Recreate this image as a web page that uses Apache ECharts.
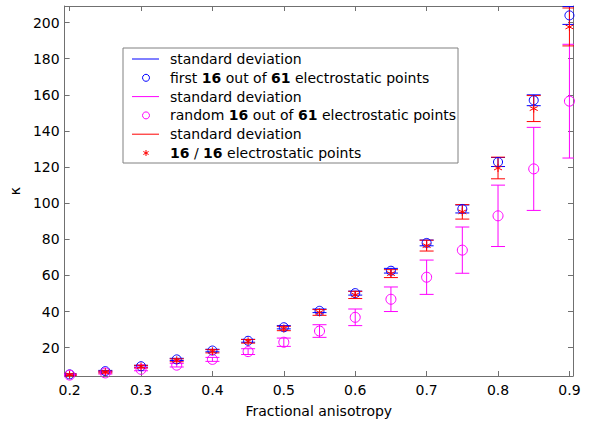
<!DOCTYPE html>
<html>
<head>
<meta charset="utf-8">
<script src="https://cdn.jsdelivr.net/npm/echarts@6/dist/echarts.min.js"></script>
<style>html,body{margin:0;padding:0;background:#fff}#c{width:591px;height:423px}</style>
</head>
<body>
<div id="c"></div>
<script>
const fa = [0.2,0.25,0.3,0.35,0.4,0.45,0.5,0.55,0.6,0.65,0.7,0.75,0.8,0.85,0.9];
const firstMean = [5.2,7.0,9.7,13.5,18.4,23.8,31.3,40.4,50.2,62.6,78.0,96.8,122.8,157.0,204.0];
const firstStd  = [0.3,0.4,0.5,0.6,0.7,0.8,0.9,1.0,1.1,1.3,1.6,2.2,2.5,3.0,5.0];
const randMean  = [4.8,6.0,8.0,10.3,13.5,17.8,23.0,29.2,36.8,46.8,59.0,74.0,93.0,119.0,156.5];
const randStd   = [0.4,0.6,0.8,1.0,1.1,1.6,2.3,3.5,4.6,6.8,9.5,12.8,17.0,23.0,31.5];
const eqMean    = [5.0,6.5,9.5,13.0,18.0,23.5,30.6,39.5,49.2,61.0,76.5,95.2,119.5,152.4,197.6];
const eqStd     = [0.4,0.5,0.7,0.8,0.9,1.0,1.2,1.6,2.0,2.2,3.0,4.0,6.0,7.2,10.5];
const xTicks = [0.2,0.3,0.4,0.5,0.6,0.7,0.8,0.9];
const yTicks = [20,40,60,80,100,120,140,160,180,200];
const legendLabels = [
  'standard deviation',
  '{n|first }{b|16}{n| out of }{b|61}{n| electrostatic points}',
  'standard deviation',
  '{n|random }{b|16}{n| out of }{b|61}{n| electrostatic points}',
  'standard deviation',
  '{b|16}{n| / }{b|16}{n| electrostatic points}'
];

const BLUE='#0000ff', MAG='#ff00ff', RED='#ff0000';
const FONT='"DejaVu Sans", sans-serif';
const FS=14;
const STAR='path://M5,0L5,10M0.67,2.5L9.33,7.5M0.67,7.5L9.33,2.5';

function errData(m,s){return fa.map((x,i)=>[x,m[i],s[i]]);}
function ptData(m){return fa.map((x,i)=>[x,m[i]]);}
function errSeries(m,s,color){
  return {
    type:'custom', clip:true, silent:true,
    data: errData(m,s),
    renderItem:function(params, api){
      const x=api.value(0), mv=api.value(1), sv=api.value(2);
      const t=api.coord([x,mv+sv]), b=api.coord([x,mv-sv]);
      const hw=7;
      const st={stroke:color, lineWidth:1};
      return {type:'group', children:[
        {type:'line', shape:{x1:t[0],y1:t[1],x2:b[0],y2:b[1]}, style:st},
        {type:'line', shape:{x1:t[0]-hw,y1:t[1],x2:t[0]+hw,y2:t[1]}, style:st},
        {type:'line', shape:{x1:b[0]-hw,y1:b[1],x2:b[0]+hw,y2:b[1]}, style:st}
      ]};
    }
  };
}
function ptSeries(m,color,symbol,size){
  return {
    type:'scatter', data:ptData(m), symbol:symbol, symbolSize:size, silent:true,
    itemStyle:{color:'transparent', borderColor:color, borderWidth:1, opacity:1}
  };
}

const axisColor='#707070';
const chart = echarts.init(document.getElementById('c'), null, {renderer:'svg'});

const lg = {left:123, top:48, w:335, h:115, row0:59, step:18.8};
const legendChildren = [{type:'rect', shape:{x:lg.left, y:lg.top, width:lg.w, height:lg.h}, style:{fill:'#fff', stroke:'#808080', lineWidth:1}}];
const legendStyles = [
  {kind:'line', color:BLUE},{kind:'circle', color:BLUE},
  {kind:'line', color:MAG},{kind:'circle', color:MAG},
  {kind:'line', color:RED},{kind:'star', color:RED}
];
legendStyles.forEach((s,i)=>{
  const y = lg.row0 + i*lg.step;
  if(s.kind==='line'){
    legendChildren.push({type:'line', shape:{x1:132,y1:y,x2:159,y2:y}, style:{stroke:s.color, lineWidth:1}});
  } else if(s.kind==='circle'){
    legendChildren.push({type:'circle', shape:{cx:146,cy:y,r:3.5}, style:{fill:'none', stroke:s.color, lineWidth:1}});
  } else {
    const r=3;
    legendChildren.push({type:'polyline', shape:{points:[[146,y-r],[146,y+r]]}, style:{stroke:s.color, lineWidth:1}});
    legendChildren.push({type:'polyline', shape:{points:[[146-r*0.87,y-r*0.5],[146+r*0.87,y+r*0.5]]}, style:{stroke:s.color, lineWidth:1}});
    legendChildren.push({type:'polyline', shape:{points:[[146-r*0.87,y+r*0.5],[146+r*0.87,y-r*0.5]]}, style:{stroke:s.color, lineWidth:1}});
  }
  legendChildren.push({type:'text', x:170, y:y, style:{
    text:legendLabels[i], fill:'#000', font:FS+'px '+FONT, verticalAlign:'middle', align:'left',
    rich:{n:{fontSize:FS, fontFamily:FONT, fill:'#000'}, b:{fontSize:FS, fontFamily:FONT, fontWeight:'bold', fill:'#000'}}
  }});
});

chart.setOption({
  animation:false,
  backgroundColor:'#fff',
  grid:{left:59, right:18, top:6, bottom:38, containLabel:false},
  xAxis:[{
    type:'value', min:0.193, max:0.905,
    name:'Fractional anisotropy', nameLocation:'middle', nameGap:28,
    nameTextStyle:{color:'#000', fontSize:FS, fontFamily:FONT},
    axisLine:{show:true, onZero:false, lineStyle:{color:axisColor}},
    axisTick:{show:true, inside:true, length:5, customValues:xTicks, lineStyle:{color:axisColor}},
    axisLabel:{show:true, customValues:xTicks, color:'#000', fontSize:FS, fontFamily:FONT, margin:7,
      formatter:v=>v.toFixed(1)},
    splitLine:{show:false}
  },{
    type:'value', position:'top', min:0.193, max:0.905,
    axisLine:{show:true, onZero:false, lineStyle:{color:axisColor}},
    axisTick:{show:true, inside:true, length:5, customValues:xTicks, lineStyle:{color:axisColor}},
    axisLabel:{show:false}, splitLine:{show:false}
  }],
  yAxis:[{
    type:'value', min:4.3, max:209.2,
    name:'κ', nameLocation:'middle', nameGap:38, nameRotate:90,
    nameTextStyle:{color:'#000', fontSize:FS, fontFamily:FONT},
    axisLine:{show:true, onZero:false, lineStyle:{color:axisColor}},
    axisTick:{show:true, inside:true, length:5, customValues:yTicks, lineStyle:{color:axisColor}},
    axisLabel:{show:true, customValues:yTicks, color:'#000', fontSize:FS, fontFamily:FONT, margin:5},
    splitLine:{show:false}
  },{
    type:'value', position:'right', min:4.3, max:209.2,
    axisLine:{show:true, onZero:false, lineStyle:{color:axisColor}},
    axisTick:{show:true, inside:true, length:5, customValues:yTicks, lineStyle:{color:axisColor}},
    axisLabel:{show:false}, splitLine:{show:false}
  }],
  series:[
    errSeries(firstMean, firstStd, BLUE),
    ptSeries(firstMean, BLUE, 'circle', 9),
    errSeries(randMean, randStd, MAG),
    ptSeries(randMean, MAG, 'circle', 10),
    errSeries(eqMean, eqStd, RED),
    ptSeries(eqMean, RED, STAR, 8)
  ],
  graphic:{elements:[{type:'group', children:legendChildren, z:100}]}
});
</script>
</body>
</html>
